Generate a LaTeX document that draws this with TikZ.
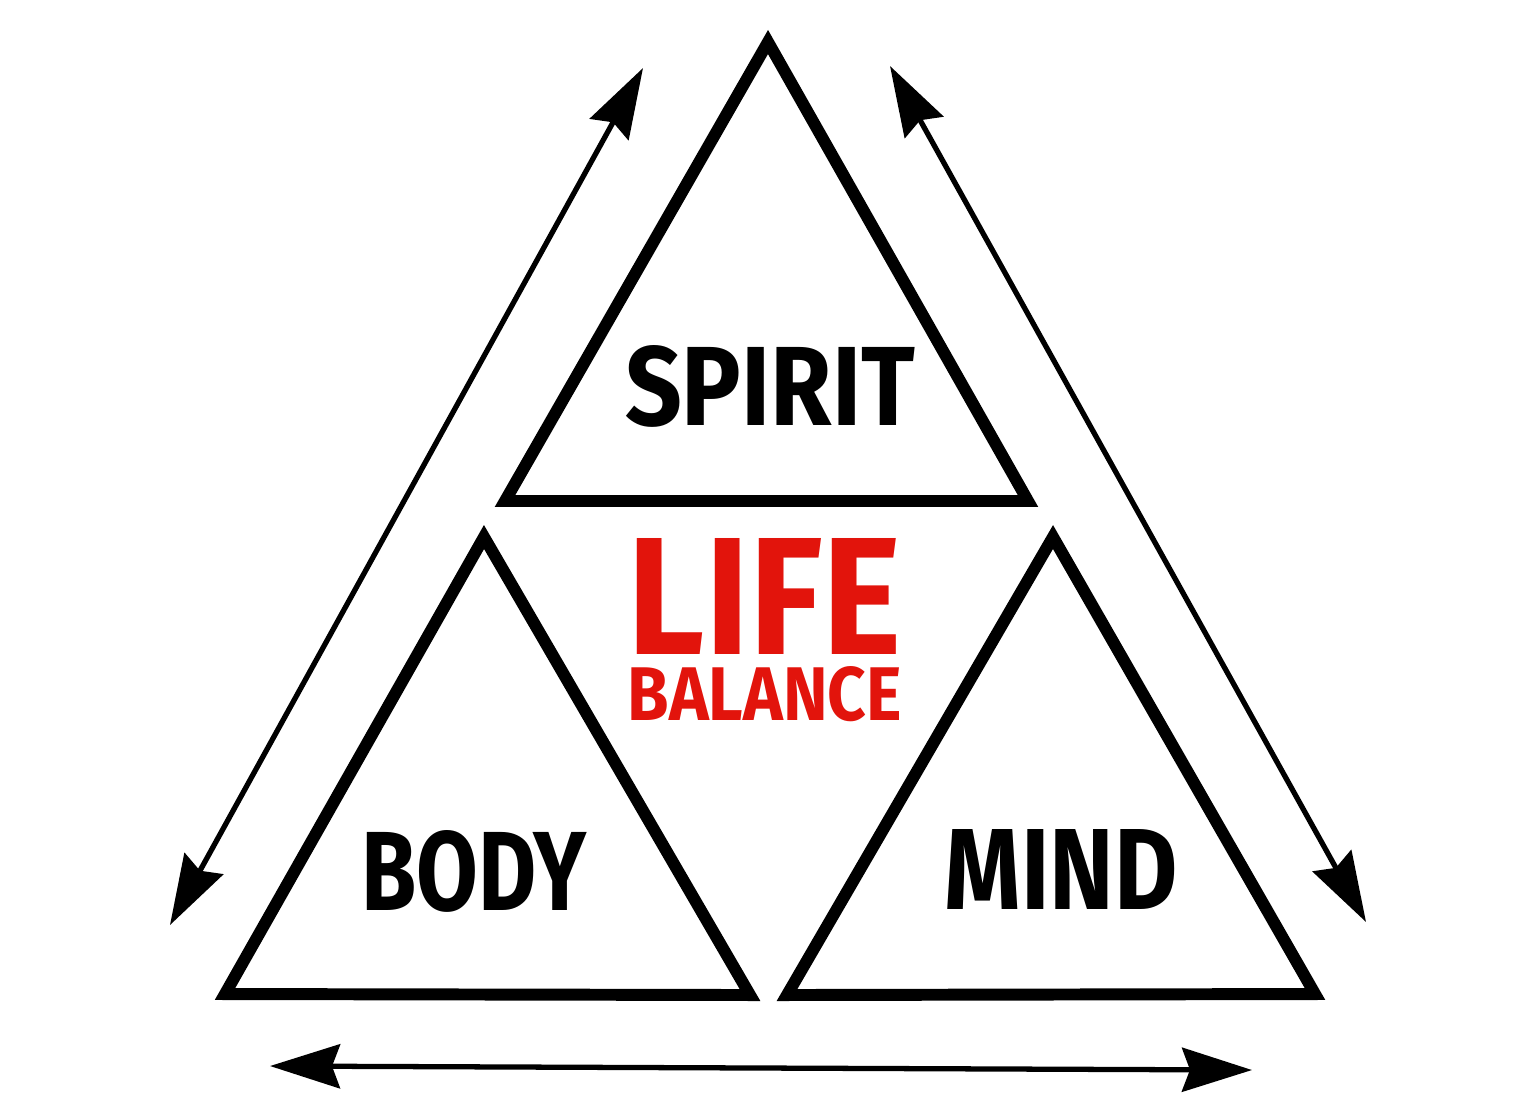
\documentclass[tikz,border=0pt]{standalone}
\usepackage{fontspec}
\setmainfont{Fira Sans}
\usepackage{graphicx}
\usetikzlibrary{arrows.meta}
\definecolor{lifered}{RGB}{226,20,12}
\tikzset{
  tri/.style={line width=3.4pt, line join=miter},
  twoway/.style={line width=1.5pt,
    {Stealth[length=7mm,width=4.4mm,inset=0.8mm]}-{Stealth[length=7mm,width=4.4mm,inset=0.8mm]}},
  word/.style={inner sep=0pt, font=\bfseries},
}
\newcommand{\fitword}[3]{\resizebox{#1}{#2}{#3}}
\begin{document}
\begin{tikzpicture}[x=1cm,y=1cm]
  \useasboundingbox[fill=white] (0,0) rectangle (15.36,-11.16);
  % three triangles
  \draw[tri] (7.68,-0.42) -- (10.28,-5.01) -- (5.05,-5.01) -- cycle;
  \draw[tri] (4.84,-5.37) -- (7.50,-9.95) -- (2.25,-9.94) -- cycle;
  \draw[tri] (10.53,-5.37) -- (13.15,-9.94) -- (7.87,-9.95) -- cycle;
  % arrow ends
  \coordinate (lt) at (6.43,-0.68);
  \coordinate (lb) at (1.70,-9.25);
  \coordinate (rt) at (8.90,-0.66);
  \coordinate (rb) at (13.66,-9.22);
  \coordinate (bl) at (2.70,-10.66);
  \coordinate (br) at (12.52,-10.70);
  \draw[twoway] (lt) -- (lb);
  \draw[twoway] (rt) -- (rb);
  \draw[twoway] (bl) -- (br);
  % labels
  \node[word] (spirit) at (7.70,-3.86) {\fitword{2.90cm}{0.80cm}{SPIRIT}};
  \node[word] (body) at (4.74,-8.71) {\fitword{2.25cm}{0.80cm}{BODY}};
  \node[word] (mind) at (10.61,-8.69) {\fitword{2.33cm}{0.80cm}{MIND}};
  \node[word, text=lifered, align=center] (title) at (7.65,-6.30)
    {\fitword{2.74cm}{1.16cm}{LIFE}\\[0.08cm]\fitword{2.74cm}{0.54cm}{BALANCE}};
\end{tikzpicture}
\end{document}
